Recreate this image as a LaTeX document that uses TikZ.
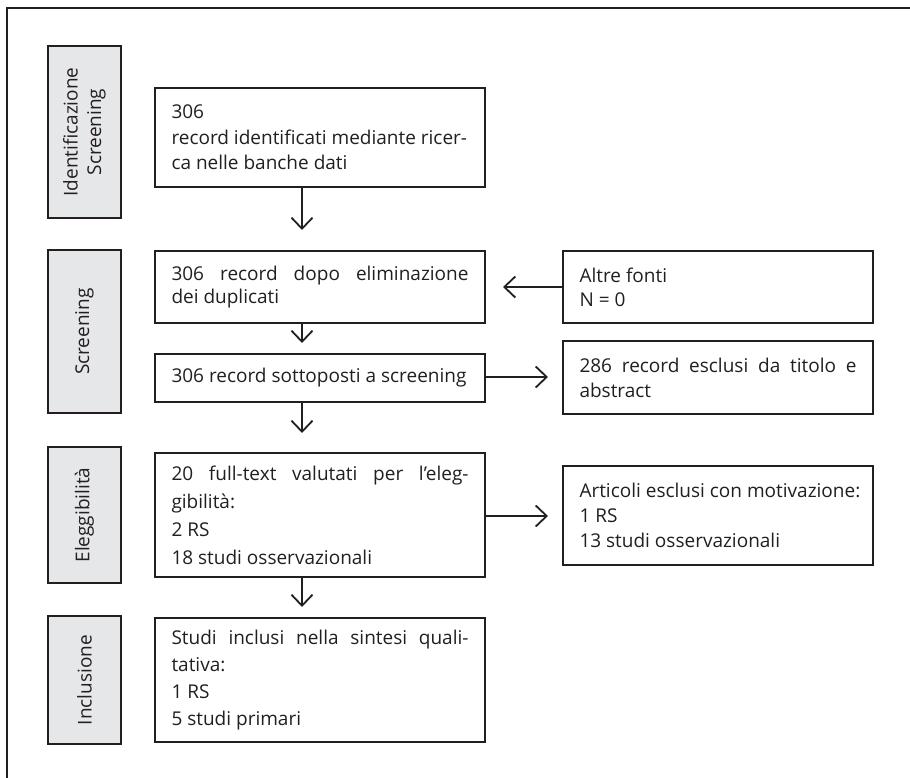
\documentclass[tikz,border=0pt]{standalone}
\usepackage{fontspec}
\setmainfont{Open Sans}
\usetikzlibrary{arrows.meta}
\definecolor{ink}{HTML}{231F20}
\definecolor{phase}{HTML}{E6E7E8}
\begin{document}
\begin{tikzpicture}[x=1pt,y=-1pt,
  txt/.style={font=\fontsize{19}{26}\selectfont},
  lead/.style={font=\fontsize{19}{#1}\selectfont},
  phasebox/.style={draw=ink,line width=1.8pt,fill=phase,minimum width=73pt,
    inner sep=0pt,txt},
  phaselabel/.style={rotate=90,align=center,text=ink,txt},
  mainbox/.style={draw=ink,line width=1.8pt,fill=white,text width=297pt,
    inner xsep=16.5pt,inner ysep=4pt,align=justify,text=ink,txt},
  sidebox/.style={draw=ink,line width=1.8pt,fill=white,text width=277pt,
    inner xsep=16.5pt,inner ysep=4pt,align=justify,text=ink,txt},
  arr/.style={draw=ink,line width=1.8pt,-{Straight Barb[length=11pt,width=21pt,line width=1.8pt]}}]
\useasboundingbox (0,0) rectangle (910,778);
% partial outer frame
\draw[ink,line width=2pt] (7,778) -- (7,8) -- (910,8);

% phase column
\node[phasebox,minimum height=172pt] (g1) at (84.5,132) {};
\node[phaselabel] at (g1.center) {Identificazione\\[-2.5pt]Screening};
\node[phasebox,minimum height=163pt] (g2) at (84.5,331.5) {};
\node[phaselabel] at (g2.center) {Screening};
\node[phasebox,minimum height=136pt] (g3) at (84.5,515) {};
\node[phaselabel] at (g3.center) {Eleggibilità};
\node[phasebox,minimum height=128pt] (g4) at (84.5,680) {};
\node[phaselabel] at (g4.center) {Inclusione};

% main flow
\node[mainbox,lead=25.5,minimum height=99pt] (b1) at (320,137.5)
  {306\\record identificati mediante ricer-\\ca nelle banche dati};
\node[mainbox,lead=23,minimum height=72pt] (b2) at (320,287)
  {306 record dopo eliminazione\linebreak dei duplicati};
\node[mainbox,minimum height=48pt] (b3) at (320,378)
  {\mbox{306 record sottoposti a screening}};
\node[mainbox,lead=28,minimum height=124pt] (b4) at (320,515)
  {20 full-text valutati per l’eleg-\linebreak gibilità:\\2 RS\\18 studi osservazionali};
\node[mainbox,lead=27,minimum height=124pt] (b5) at (320,680)
  {Studi inclusi nella sintesi quali-\linebreak tativa:\\1 RS\\5 studi primari};

% side boxes
\node[sidebox,lead=24,minimum height=72pt] (r1) at (718,287)
  {Altre fonti\\N = 0};
\node[sidebox,lead=25,minimum height=73pt] (r2) at (718,377.5)
  {286 record esclusi da titolo e\linebreak abstract};
\node[sidebox,lead=25,minimum height=99pt] (r3) at (718,515.5)
  {\mbox{Articoli esclusi con motivazione:}\\1 RS\\13 studi osservazionali};

% arrow ends
\coordinate (t1) at (302,230);
\coordinate (t2) at (302,343);
\coordinate (t3) at (302,433);
\coordinate (t4) at (302,607);
\coordinate (s1) at (503,287);
\coordinate (s2) at (548,377);
\coordinate (s3) at (548,516);

\draw[arr] (b1.south -| t1) -- (t1);
\draw[arr] (b2.south -| t2) -- (t2);
\draw[arr] (b3.south -| t3) -- (t3);
\draw[arr] (b4.south -| t4) -- (t4);
\draw[arr] (r1.west) -- (s1);
\draw[arr] (b3.east |- s2) -- (s2);
\draw[arr] (b4.east |- s3) -- (s3);
\end{tikzpicture}
\end{document}
